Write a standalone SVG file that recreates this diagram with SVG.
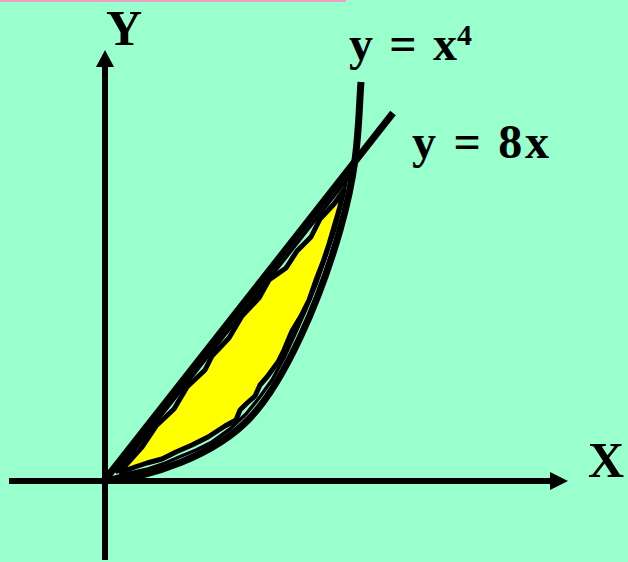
<svg xmlns="http://www.w3.org/2000/svg" width="628" height="562" viewBox="0 0 628 562">
<style>
.lbl{font-family:"Liberation Serif","Times New Roman",serif;font-weight:bold;fill:#000}
.ax{stroke:#000;stroke-width:6;fill:none}
.cv{stroke:#000;stroke-width:7;fill:none}
.ring{stroke:#000;stroke-width:3.5;fill:none;stroke-linejoin:round;stroke-linecap:round}
.blob{stroke:#000;stroke-width:5;fill:#FFFF00;stroke-linejoin:round;stroke-linecap:round}
</style>
<rect x="0" y="0" width="628" height="562" fill="#99FFCC"/>
<rect x="0" y="0" width="346" height="2" fill="#F0A0C8"/>
<g id="axes">
<line class="ax" x1="9" y1="481" x2="552" y2="481"/>
<polygon points="550,472 568,481 550,490" fill="#000"/>
<line class="ax" x1="105" y1="560" x2="105" y2="64"/>
<polygon points="96,67 105,50 114,67" fill="#000"/>
</g>
<g id="region">
<path class="ring" d="M112,478 L130,473 L148,469 L163,464 L179,457 L196,450 L212,442 L230,429 L246,414 L259,398 L272,380 L284,358 L295,334 L306,309 L317,282 L326,256 L335,229 L341,205 L346,182"/>
<path class="ring" d="M117,472 L160,417 L205,360 L250,303 L298,242 L352,173"/>
<path class="blob" d="M344,190 L334,204 L320,219 L311,237 L297,251 L286,268 L269,280 L259,298 L242,316 L229,338 L212,356 L205,370 L187,387 L174,409 L156,426 L142,447 L125,466 L121,472 L135,467 L147,463 L162,459 L176,452 L192,445 L208,437 L225,426 L236,420 L240,410 L246,404 L255,396 L260,385 L267,377 L278,362 L284,350 L292,331 L301,316 L309,300 L316,280 L323,262 L329,244 L334,227 L339,210 L342,198 Z"/>
</g>
<g id="curves">
<line class="cv" x1="104" y1="481" x2="393" y2="113"/>
<path class="cv" d="M104,481 C150,478 215,455 250,418 S320,300 340,230 S358,120 361,82"/>
</g>
<g id="labels">
<text class="lbl" x="106" y="45" font-size="50">Y</text>
<text class="lbl" x="588" y="477" font-size="50">X</text>
<text class="lbl" x="349" y="60" font-size="48" textLength="108">y = x</text>
<text class="lbl" x="457" y="45" font-size="30">4</text>
<text class="lbl" x="412" y="158" font-size="48" textLength="137">y = 8x</text>
</g>
</svg>
